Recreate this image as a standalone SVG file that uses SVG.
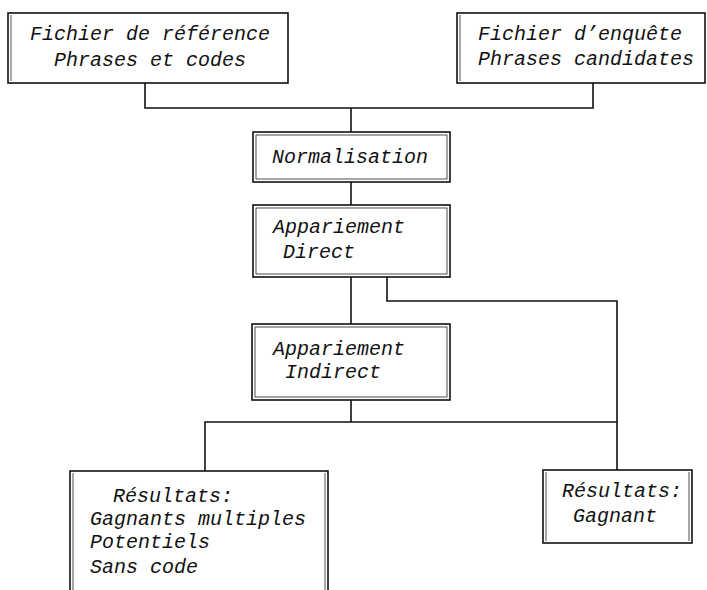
<svg xmlns="http://www.w3.org/2000/svg" width="707" height="590" viewBox="0 0 707 590">
<style>
.o{fill:#fff;stroke:#111;stroke-width:1.6}
.i{fill:none;stroke:#222;stroke-width:0.8}
.t{font-family:"Liberation Mono","DejaVu Sans Mono",monospace;font-style:italic;font-size:20px;fill:#111}
.c{fill:none;stroke:#111;stroke-width:1.6}
</style>
<rect width="707" height="590" fill="#fff"/>
<g id="connectors">
<polyline class="c" points="145,83 145,108 593,108 593,83"/>
<line class="c" x1="351" y1="108" x2="351" y2="132"/>
<line class="c" x1="351" y1="182" x2="351" y2="205"/>
<line class="c" x1="351" y1="277" x2="351" y2="324"/>
<polyline class="c" points="387,277 387,301 617,301 617,470"/>
<line class="c" x1="351" y1="400" x2="351" y2="422"/>
<polyline class="c" points="205,471 205,422 617,422"/>
</g>
<g id="ref">
<rect class="o" x="8" y="13" width="280" height="70"/>
<line class="i" x1="11" y1="15" x2="11" y2="81"/>
<text class="t" x="30" y="40">Fichier de référence</text>
<text class="t" x="54" y="66">Phrases et codes</text>
</g>
<g id="enq">
<rect class="o" x="457" y="13" width="248" height="70"/>
<line class="i" x1="460" y1="15" x2="460" y2="81"/>
<text class="t" x="478" y="40">Fichier d’enquête</text>
<text class="t" x="478" y="65">Phrases candidates</text>
</g>
<g id="norm">
<rect class="o" x="253" y="132" width="197" height="50"/>
<rect class="i" x="256" y="135" width="191" height="44"/>
<text class="t" x="272" y="163">Normalisation</text>
</g>
<g id="direct">
<rect class="o" x="253" y="205" width="197" height="72"/>
<rect class="i" x="256" y="208" width="191" height="66"/>
<text class="t" x="273" y="233">Appariement</text>
<text class="t" x="283" y="258">Direct</text>
</g>
<g id="indirect">
<rect class="o" x="252" y="324" width="198" height="76"/>
<rect class="i" x="255" y="327" width="192" height="70"/>
<text class="t" x="273" y="355">Appariement</text>
<text class="t" x="285" y="378">Indirect</text>
</g>
<g id="multi">
<rect class="o" x="70" y="471" width="258" height="130"/>
<line class="i" x1="73" y1="473" x2="73" y2="590"/>
<line class="i" x1="325" y1="473" x2="325" y2="590"/>
<text class="t" x="113" y="502">Résultats:</text>
<text class="t" x="90" y="525">Gagnants multiples</text>
<text class="t" x="90" y="548">Potentiels</text>
<text class="t" x="90" y="573">Sans code</text>
</g>
<g id="gagnant">
<rect class="o" x="543" y="470" width="149" height="73"/>
<line class="i" x1="546" y1="472" x2="546" y2="541"/>
<line class="i" x1="689" y1="472" x2="689" y2="541"/>
<text class="t" x="562" y="497">Résultats:</text>
<text class="t" x="573" y="522">Gagnant</text>
</g>
</svg>
